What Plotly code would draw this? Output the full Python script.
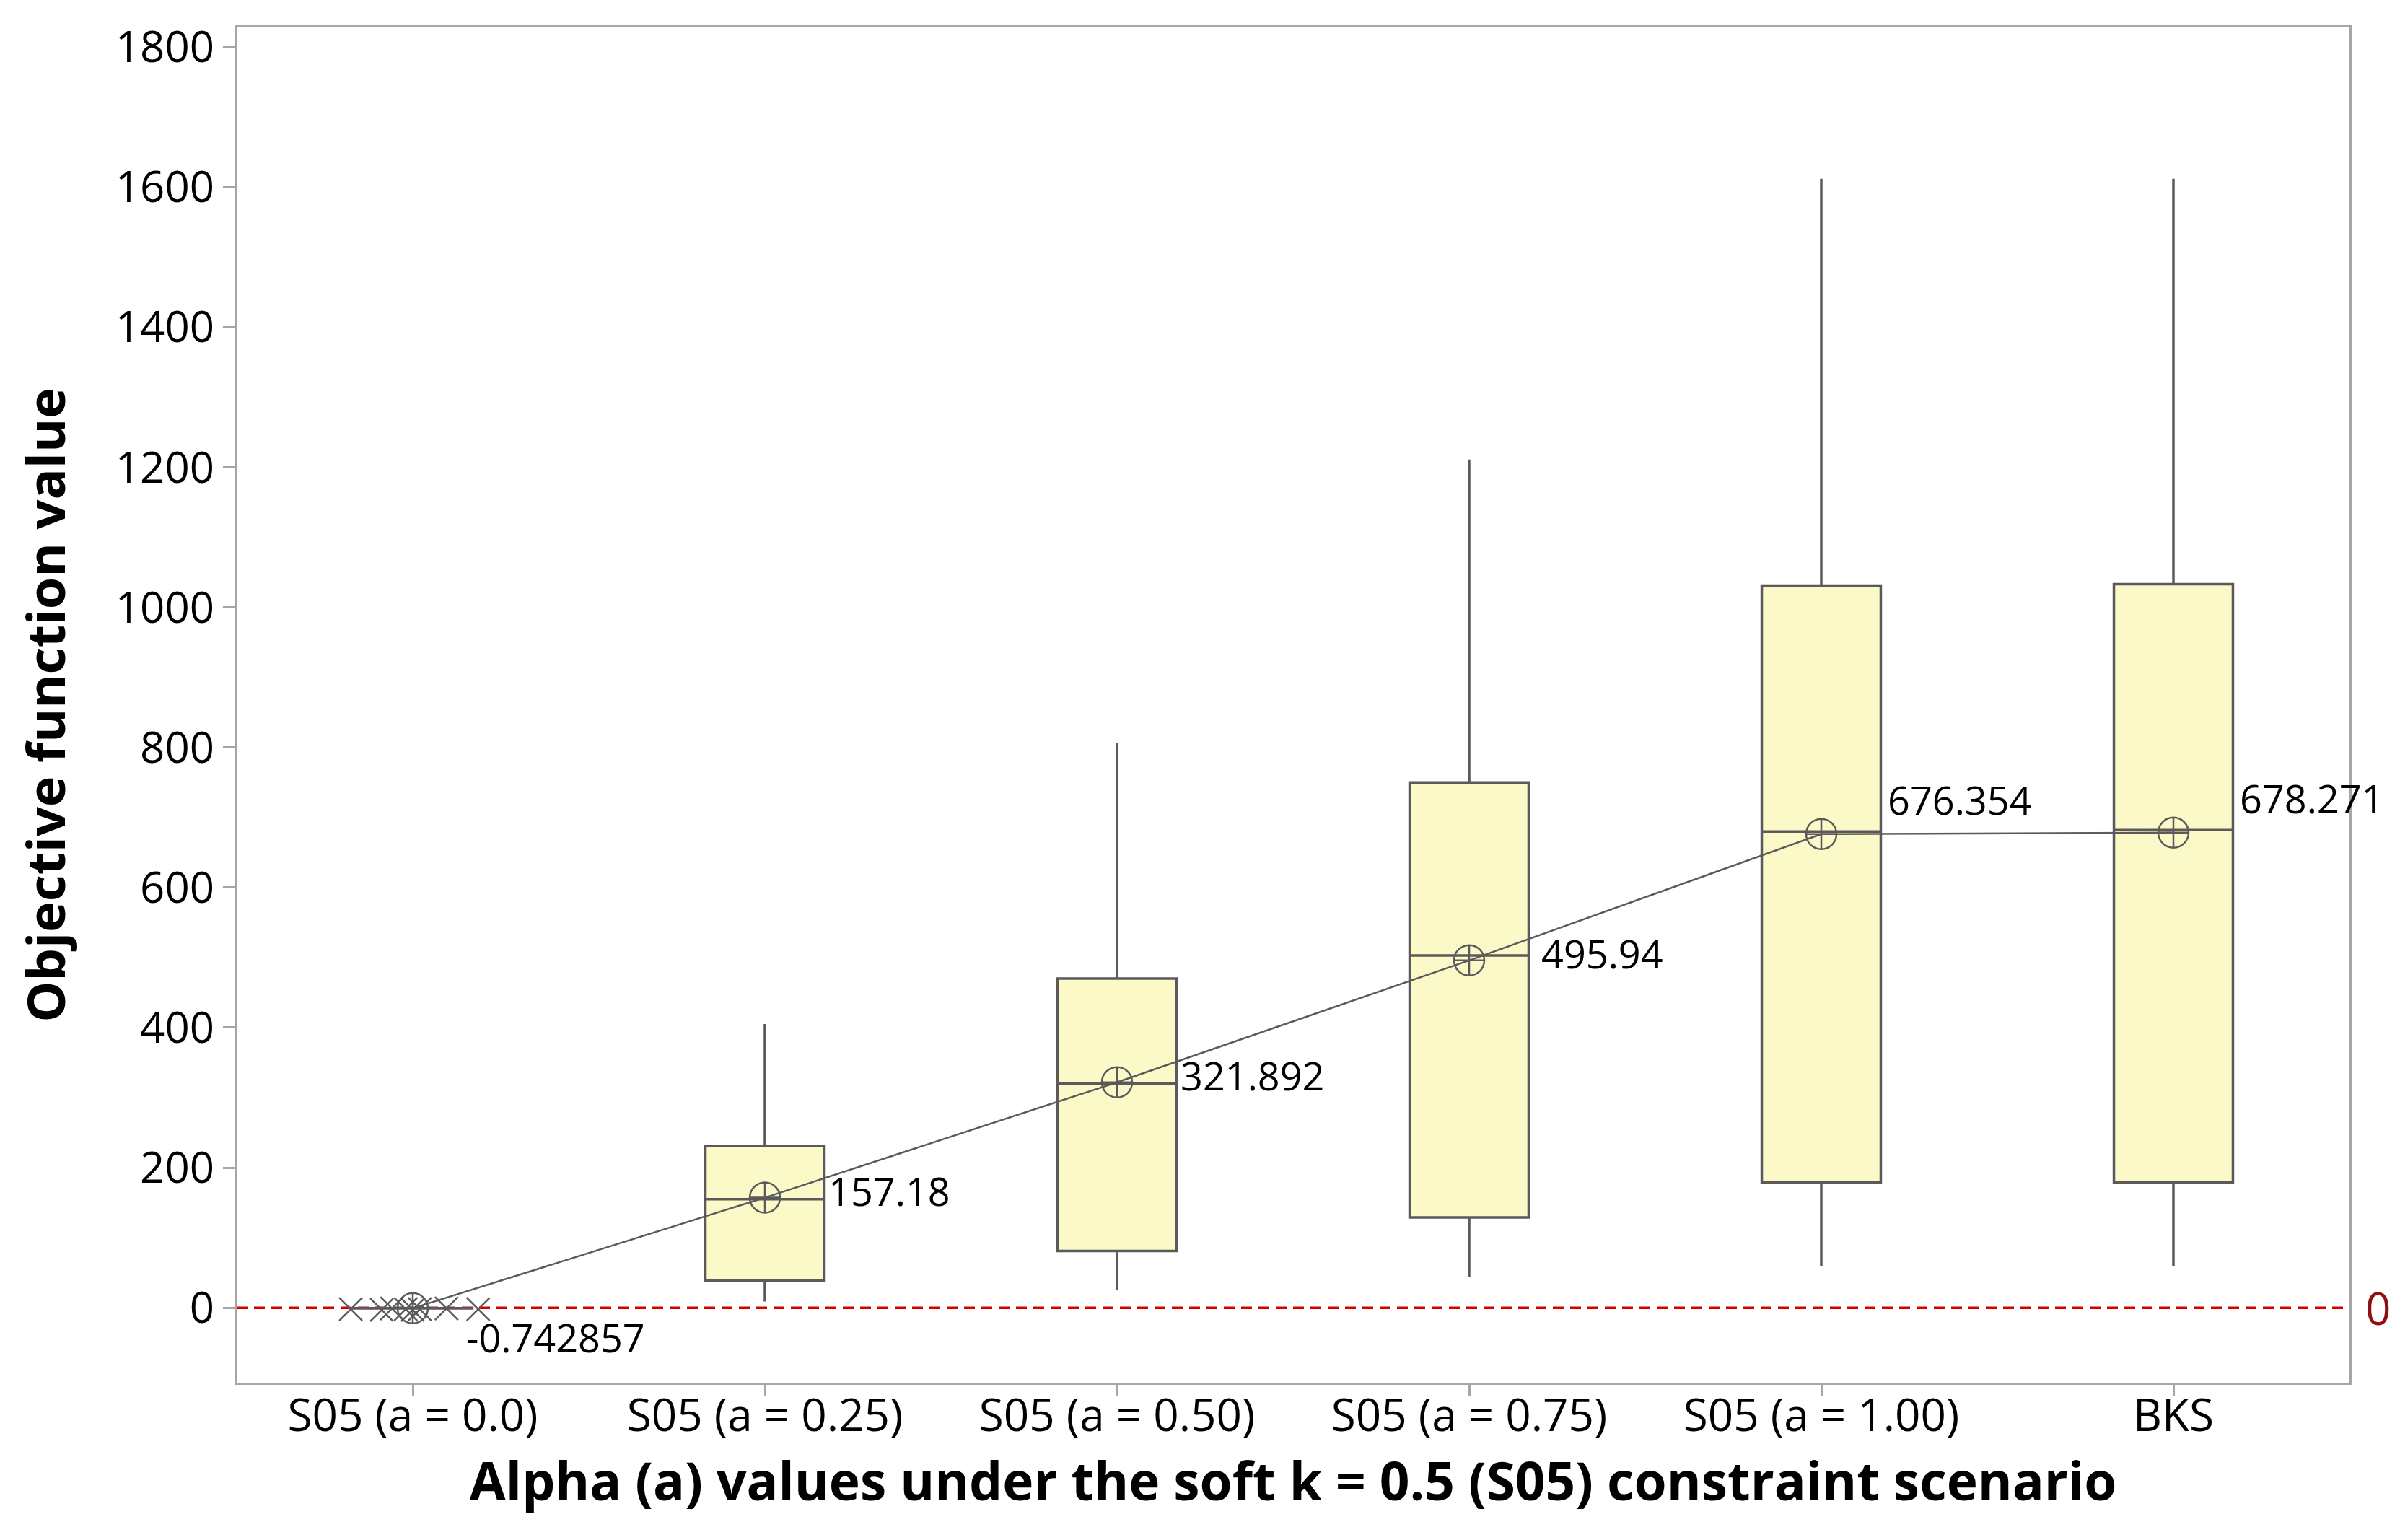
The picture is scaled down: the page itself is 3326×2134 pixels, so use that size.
import plotly.graph_objects as go

categories = ["S05 (a = 0.0)", "S05 (a = 0.25)", "S05 (a = 0.50)",
              "S05 (a = 0.75)", "S05 (a = 1.00)", "BKS"]
q1 = [-1.0, 39, 81, 129, 179, 179]
median = [-1.0, 155, 320, 503, 680, 682]
q3 = [-0.5, 231, 470, 750, 1031, 1033]
lower_whisker = [-1.0, 9, 26, 44, 59, 59]
upper_whisker = [-0.5, 405, 806, 1211, 1612, 1612]
means = [-0.742857, 157.18, 321.892, 495.94, 676.354, 678.271]
outliers_a0 = [-2, -3, -1, -2, -3, -2, -1, -2]
outlier_dx = [-0.176, -0.088, -0.059, -0.02, 0.0, 0.02, 0.096, 0.186]
label_yshift = [-40, 10, 10, 10, 48, 48]
label_xshift = [72, 86, 86, 98, 90, 90]

FONT = "Open Sans"
GRAY = "#5a5a5a"
AXIS = "#a6a6a6"

idx = list(range(len(categories)))

fig = go.Figure()
fig.add_shape(type="line", xref="paper", x0=0, x1=1, yref="y", y0=0, y1=0,
              line=dict(color="#d40000", width=3.5, dash="15px,9px"), layer="below")

fig.add_trace(go.Box(
    x=idx, q1=q1, median=median, q3=q3,
    lowerfence=lower_whisker, upperfence=upper_whisker,
    boxpoints=False, width=0.338, whiskerwidth=0,
    fillcolor="#fbf9c8", line=dict(color=GRAY, width=3.5),
    showlegend=False, hoverinfo="skip"))

fig.add_trace(go.Scatter(
    x=[idx[0] + d for d in outlier_dx], y=outliers_a0, mode="markers",
    marker=dict(symbol="x-thin-open", size=32, color=GRAY,
                line=dict(color=GRAY, width=2.5)),
    showlegend=False, hoverinfo="skip"))

fig.add_trace(go.Scatter(
    x=idx, y=means, mode="lines+markers",
    line=dict(color=GRAY, width=2.5),
    marker=dict(symbol="circle-cross-open", size=42, color=GRAY,
                line=dict(color=GRAY, width=2.5)),
    showlegend=False, hoverinfo="skip"))

for i, m in enumerate(means):
    fig.add_annotation(x=idx[i], y=m, text=str(m), showarrow=False,
                       xanchor="left", yanchor="middle", xshift=label_xshift[i],
                       yshift=label_yshift[i],
                       font=dict(family=FONT, size=54, color="black"))

fig.add_annotation(x=1, xref="paper", y=0, yref="y", text="0", showarrow=False,
                   xanchor="left", xshift=20,
                   font=dict(family=FONT, size=62, color="#8e1010"))

fig.update_layout(
    width=3326, height=2134,
    margin=dict(l=320, r=78, t=30, b=226),
    paper_bgcolor="white", plot_bgcolor="white",
    font=dict(family=FONT, color="black"),
    xaxis=dict(range=[-0.5, 5.5], tickmode="array", tickvals=idx, ticktext=categories,
               showgrid=False, zeroline=False, showline=True, mirror=True,
               linecolor=AXIS, linewidth=3, ticks="outside", ticklen=16,
               tickcolor=AXIS, tickwidth=3, tickfont=dict(size=62),
               ticklabelstandoff=-26,
               title=dict(text="<b>Alpha (a) values under the soft k = 0.5 (S05) constraint scenario</b>",
                          font=dict(size=73), standoff=8)),
    yaxis=dict(range=[-107, 1828], tickmode="array",
               tickvals=[0, 200, 400, 600, 800, 1000, 1200, 1400, 1600, 1800],
               showgrid=False, zeroline=False, showline=True, mirror=True,
               linecolor=AXIS, linewidth=3, ticks="outside", ticklen=16,
               tickcolor=AXIS, tickwidth=3, tickfont=dict(size=60),
               title=dict(text="<b>Objective function value</b>",
                          font=dict(size=72), standoff=46)),
)

fig.write_html("out.html")
